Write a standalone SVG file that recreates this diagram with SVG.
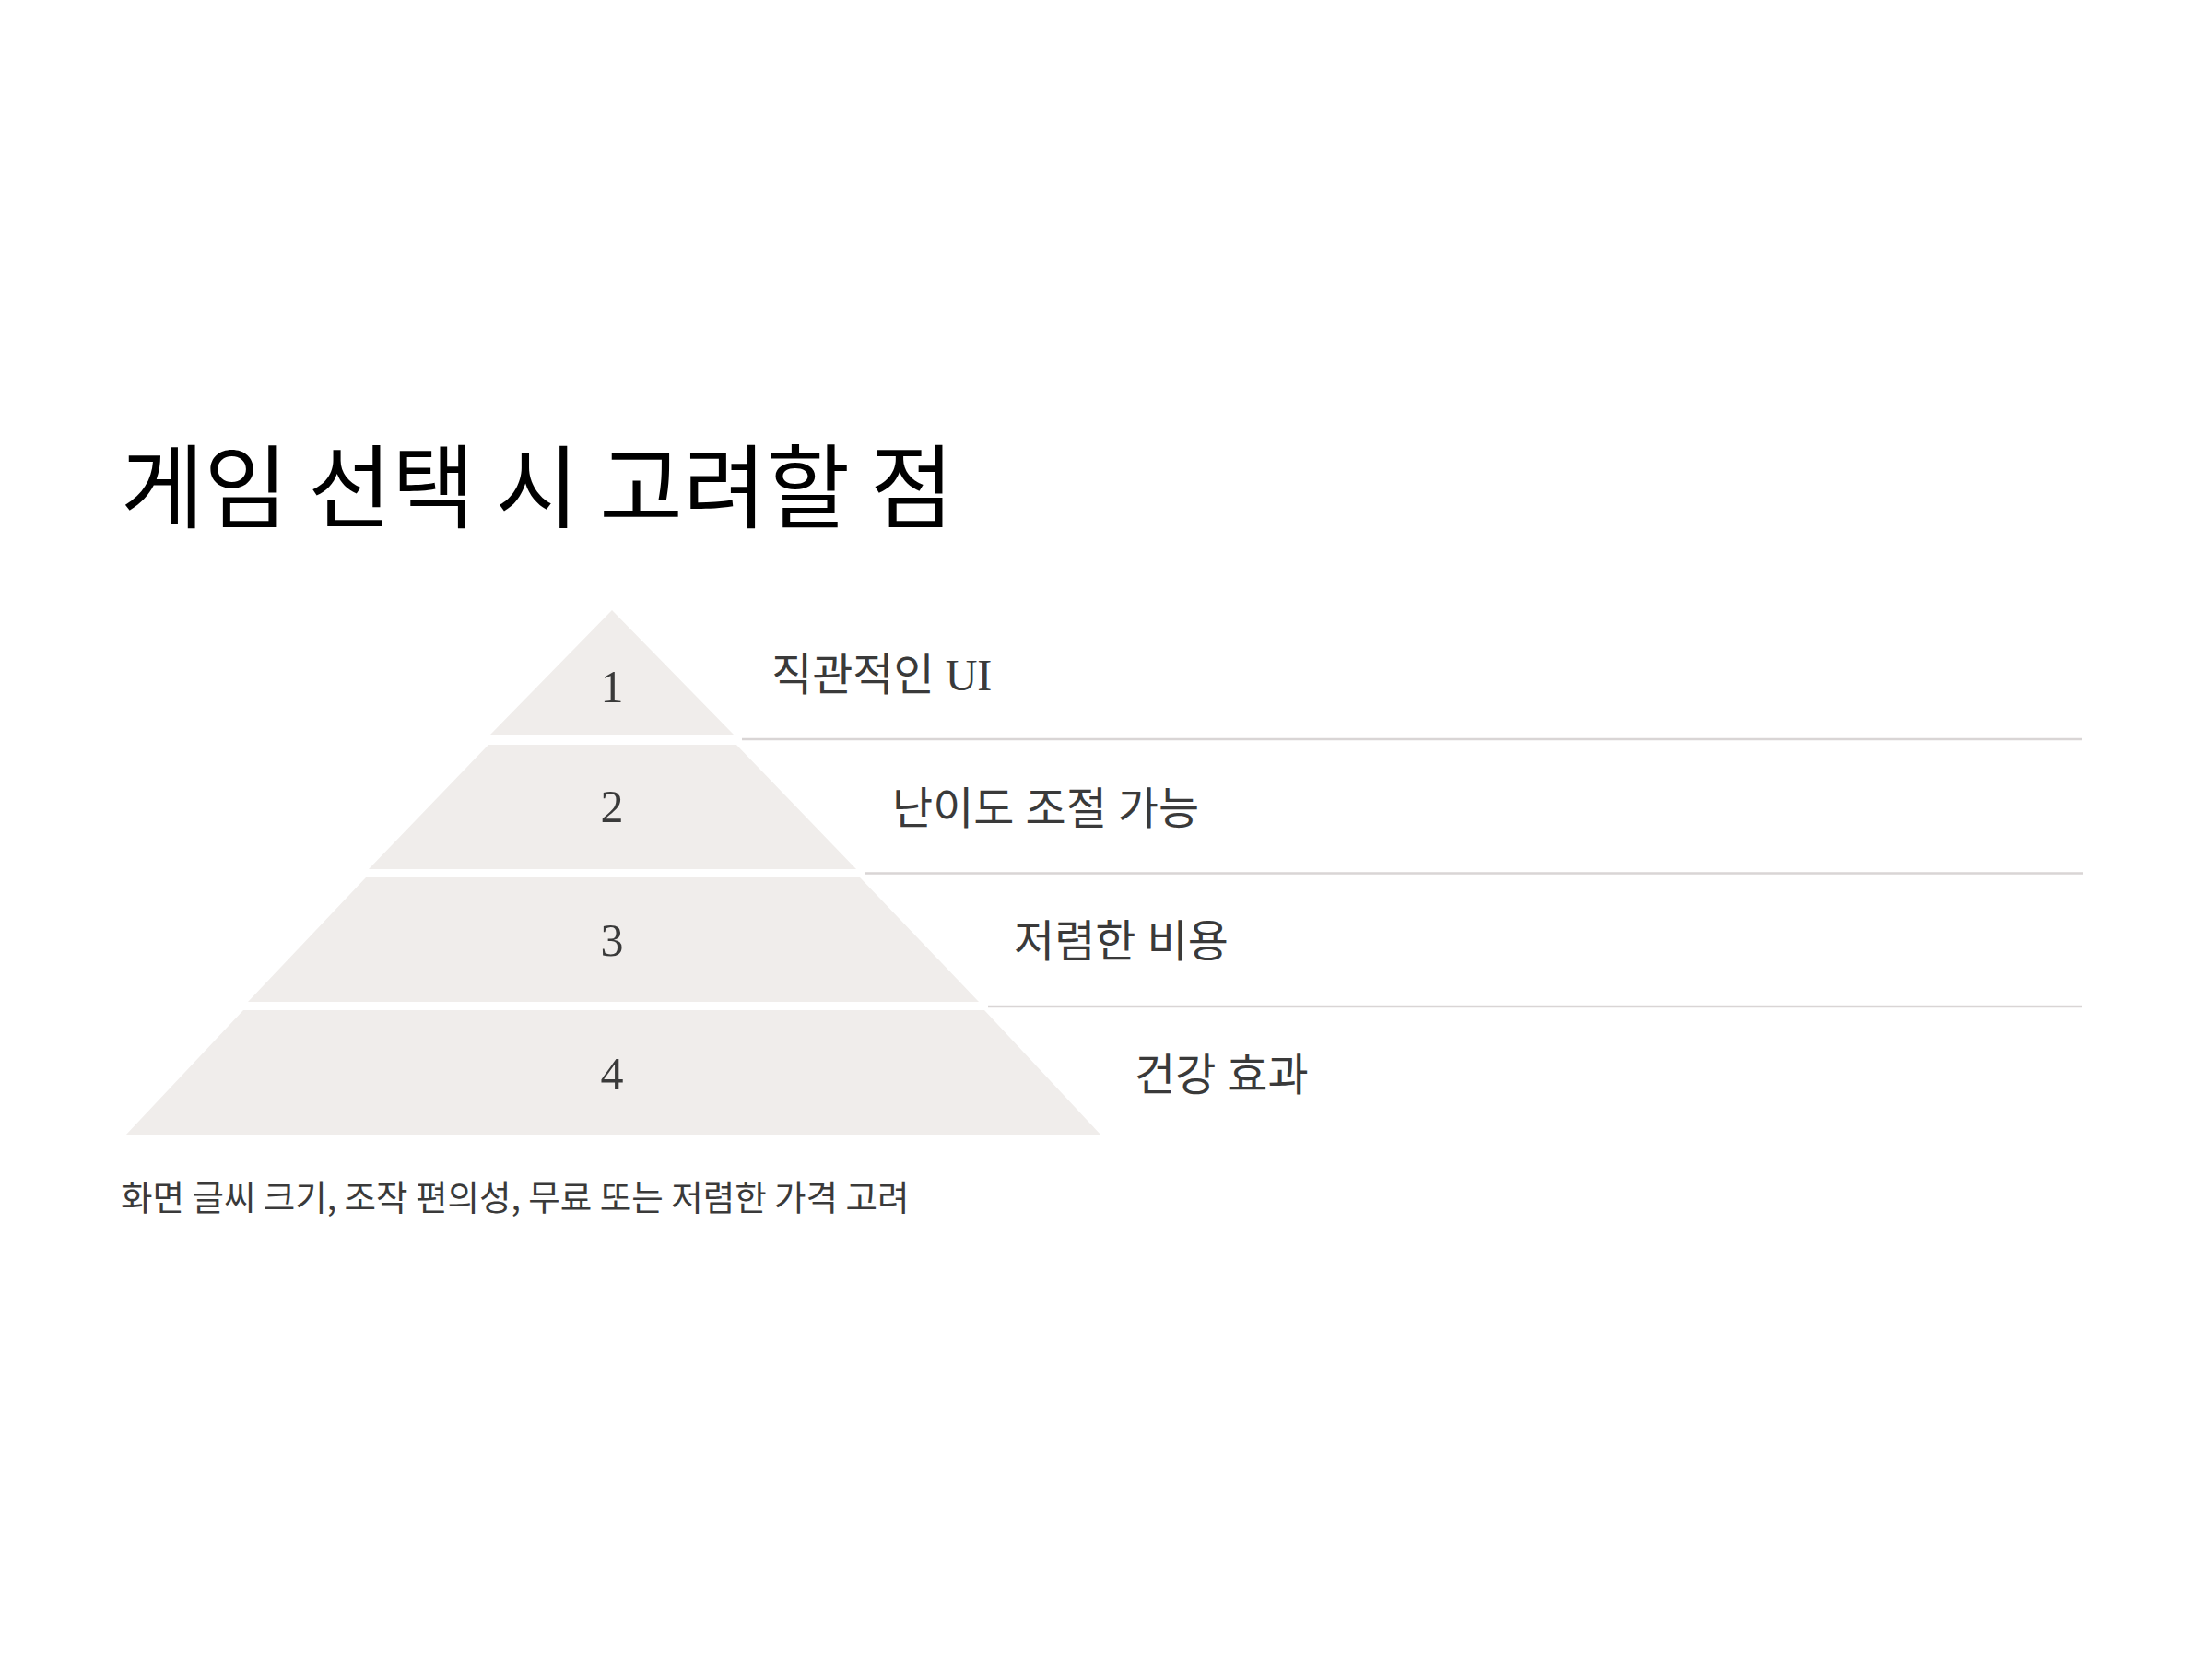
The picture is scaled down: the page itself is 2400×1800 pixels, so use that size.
<svg xmlns="http://www.w3.org/2000/svg" width="2400" height="1800" viewBox="0 0 2400 1800">
<style>
.title{font-family:"Noto Sans CJK KR","Noto Sans",sans-serif;font-size:98.5px;fill:#000}
.band{fill:#f0edeb}
.num{font-family:"Liberation Serif","DejaVu Serif",serif;font-size:50px;fill:#3a3a3a;text-anchor:middle}
.lbl{font-family:"Liberation Serif","Noto Sans CJK KR",serif;font-size:48px;fill:#3a3a3a}
.sub{font-family:"Noto Sans CJK KR","Noto Sans",sans-serif;font-size:37.5px;fill:#3a3a3a}
.sep{stroke:#d9d5d5;stroke-width:2.5;fill:none}
</style>
<rect width="2400" height="1800" fill="#fff"/>
<text class="title" x="131" y="565">게임 선택 시 고려할 점</text>
<g id="tier1"><polygon class="band" points="664,662 796,797 532,797"/><text class="num" x="664" y="762">1</text><text class="lbl" x="837" y="749">직관적인 UI</text></g>
<g id="tier2"><polygon class="band" points="530,808 799,808 929,943 400,943"/><text class="num" x="664" y="892">2</text><text class="lbl" x="968" y="894">난이도 조절 가능</text></g>
<g id="tier3"><polygon class="band" points="397,952 933,952 1062,1087 269,1087"/><text class="num" x="664" y="1037">3</text><text class="lbl" x="1100" y="1038">저렴한 비용</text></g>
<g id="tier4"><polygon class="band" points="264,1096 1068,1096 1195,1232 136,1232"/><text class="num" x="664" y="1182">4</text><text class="lbl" x="1231" y="1183">건강 효과</text></g>
<g id="connectors">
<line class="sep" x1="805" y1="802" x2="2259" y2="802"/>
<line class="sep" x1="939" y1="947.5" x2="2260" y2="947.5"/>
<line class="sep" x1="1072" y1="1092" x2="2259" y2="1092"/>
</g>
<text class="sub" x="131" y="1313">화면 글씨 크기, 조작 편의성, 무료 또는 저렴한 가격 고려</text>
</svg>
